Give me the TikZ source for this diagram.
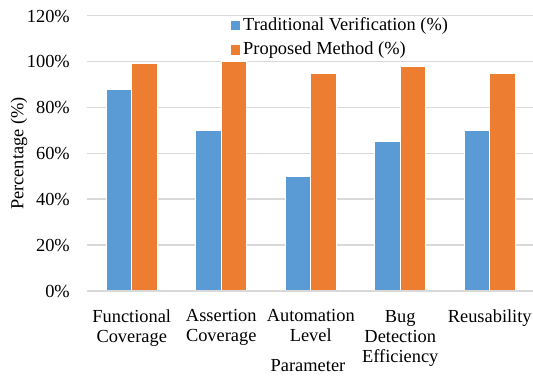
\documentclass[tikz,border=0pt]{standalone}
\usepackage{fontspec}
\setmainfont{Liberation Serif}
\definecolor{tradblue}{HTML}{5B9BD5}
\definecolor{proporange}{HTML}{ED7D31}
\definecolor{gridgray}{HTML}{D9D9D9}
\begin{document}
\begin{tikzpicture}[x=1pt,y=-1pt,
  lbl/.style={font=\fontsize{18.4}{20}\selectfont, inner sep=0pt},
  bar/.style={draw=white, line width=0.6pt},
  gridline/.style={draw=gridgray, line width=1.5pt},
  swatch/.style={minimum size=9.5pt, inner sep=0pt, draw=none}]
\useasboundingbox (0,0) rectangle (533,376);
% horizontal gridlines with percentage ticks (0% at y=291, 20% per 45.92pt)
\foreach \v in {0,20,...,120}{
  \draw[gridline] (87,{291-2.2958*\v}) -- (534,{291-2.2958*\v});
  \node[lbl, anchor=base east] (tick\v) at (70,{297.5-2.2958*\v}) {\v\%};
}
% clustered bars: traditional (left) and proposed (right)
\foreach \i/\a/\b in {0/88/99,1/70/100,2/50/95,3/65/98,4/70/95}{
  \pgfmathsetmacro\c{131.75+89.5*\i}
  \filldraw[fill=tradblue,bar] ({\c-25.5},291) rectangle (\c,{291-2.2958*\a});
  \filldraw[fill=proporange,bar] (\c,291) rectangle ({\c+25.5},{291-2.2958*\b});
}
\draw[gridline] (87,291) -- (534,291);
% category labels
\node[lbl, anchor=north, align=center] (cat1) at (131.75,309.5) {Functional\\Coverage};
\node[lbl, anchor=north, align=center] (cat2) at (221.25,309.5) {Assertion\\Coverage};
\node[lbl, anchor=north, align=center] (cat3) at (310.75,309.5) {Automation\\Level};
\node[lbl, anchor=north, align=center] (cat4) at (400.25,310) {Bug\\Detection\\Efficiency};
\node[lbl, anchor=north, align=center] (cat5) at (489.75,309.5) {Reusability};
% axis titles
\node[lbl, anchor=base] (xtitle) at (308,371.5) {Parameter};
\node[lbl, rotate=90] (ytitle) at (19,153.5) {Percentage (\%)};
% legend
\node[swatch, fill=tradblue] (sw1) at (235.5,25.5) {};
\node[lbl, anchor=base west] (leg1) at (243,30.7) {Traditional Verification (\%)};
\node[swatch, fill=proporange] (sw2) at (235.5,50) {};
\node[lbl, anchor=base west] (leg2) at (243,54.5) {Proposed Method (\%)};
\end{tikzpicture}
\end{document}
